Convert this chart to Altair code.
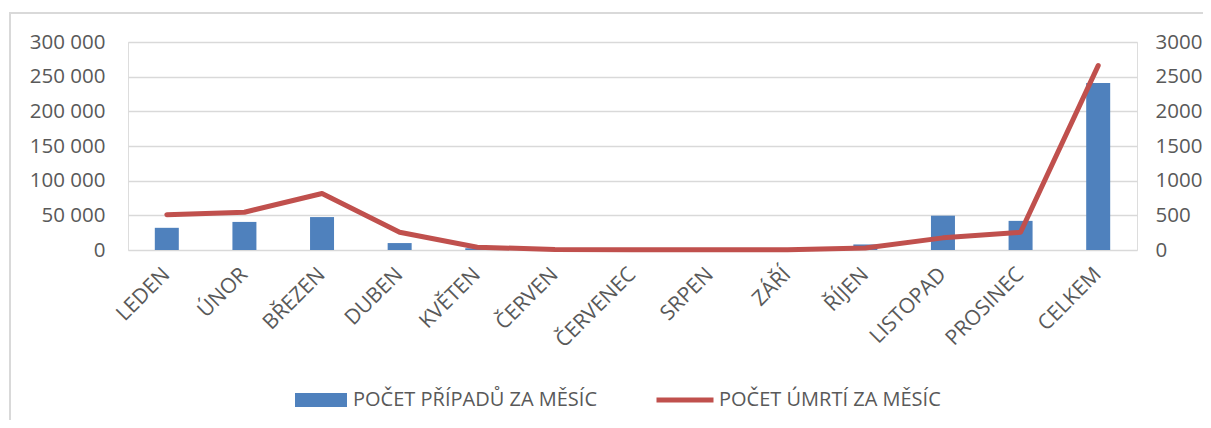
import altair as alt
import pandas as pd

months = ["LEDEN", "ÚNOR", "BŘEZEN", "DUBEN", "KVĚTEN", "ČERVEN", "ČERVENEC",
          "SRPEN", "ZÁŘÍ", "ŘÍJEN", "LISTOPAD", "PROSINEC", "CELKEM"]
cases = [32000, 40500, 47500, 10000, 2500, 400, 300, 300, 500, 8000, 49500, 42000, 241000]
deaths = [510, 545, 815, 255, 40, 8, 3, 2, 5, 30, 175, 255, 2660]

case_label = "POČET PŘÍPADŮ ZA MĚSÍC"
death_label = "POČET ÚMRTÍ ZA MĚSÍC"

df = pd.DataFrame({
    "month": months,
    "cases": cases,
    "deaths": deaths,
    "case_series": [case_label] * len(months),
    "death_series": [death_label] * len(months),
})

BLUE = "#4F81BD"
RED = "#C0504D"
GRID = "#D9D9D9"
TEXT = "#595959"
FONT = "Open Sans"

x_enc = alt.X("month:N", sort=months, title=None,
              scale=alt.Scale(paddingInner=0, paddingOuter=0),
              axis=alt.Axis(labelAngle=-45, labelAlign="right", labelBaseline="middle",
                            labelPadding=21, ticks=False, domain=False, grid=False,
                            labelFontSize=21, labelColor=TEXT, labelFont=FONT))

bars = alt.Chart(df).mark_bar(size=24).encode(
    x=x_enc,
    y=alt.Y("cases:Q", title=None,
            scale=alt.Scale(domain=[0, 300000], nice=False),
            axis=alt.Axis(values=[0, 50000, 100000, 150000, 200000, 250000, 300000],
                          labelExpr="replace(format(datum.value, ','), ',', ' ')",
                          ticks=False, domain=False, grid=True, gridColor=GRID,
                          gridWidth=1.5, labelPadding=23, labelFontSize=20.5,
                          labelColor=TEXT, labelFont=FONT)),
    fill=alt.Fill("case_series:N",
                  scale=alt.Scale(domain=[case_label], range=[BLUE]),
                  legend=alt.Legend(title=None, orient="none", legendX=167, legendY=332,
                                    padding=0,
                                    symbolType="M-1,-0.27H1V0.27H-1Z", symbolSize=2704,
                                    symbolStrokeWidth=0, labelFontSize=20,
                                    labelLimit=0,
                                    labelColor=TEXT, labelFont=FONT, labelOffset=6)),
)

line = alt.Chart(df).mark_line(strokeCap="round", strokeJoin="round").encode(
    x=alt.X("month:N", sort=months),
    y=alt.Y("deaths:Q", title=None,
            scale=alt.Scale(domain=[0, 3000], nice=False),
            axis=alt.Axis(orient="right", values=[0, 500, 1000, 1500, 2000, 2500, 3000],
                          format="d", ticks=False, domain=False, grid=False,
                          labelPadding=18, labelFontSize=20.5, labelColor=TEXT,
                          labelFont=FONT)),
    stroke=alt.Stroke("death_series:N",
                      scale=alt.Scale(domain=[death_label], range=[RED]),
                      legend=alt.Legend(title=None, orient="none", legendX=526, legendY=327,
                                        padding=0,
                                        symbolType="stroke", symbolSize=3249,
                                        labelFontSize=20,
                                        labelLimit=0,
                                        labelColor=TEXT, labelFont=FONT, labelOffset=3)),
)

border = alt.Chart(pd.DataFrame({"a": [0]})).mark_rect(
    fill="white", fillOpacity=0, stroke=GRID, strokeWidth=2
).encode(x=alt.value(-118), x2=alt.value(1300), y=alt.value(-29), y2=alt.value(600))

chart = alt.layer(border, bars, line).resolve_scale(
    y="independent", fill="independent", stroke="independent"
).properties(
    width=1009, height=208,
    autosize=alt.AutoSizeParams(type="none"),
    padding={"left": 120, "top": 34, "right": 66, "bottom": 170},
).configure_view(stroke=None).configure(background="white").configure_line(
    strokeWidth=5
)

chart.save("out.html", embed_options={"renderer": "svg", "actions": False})
